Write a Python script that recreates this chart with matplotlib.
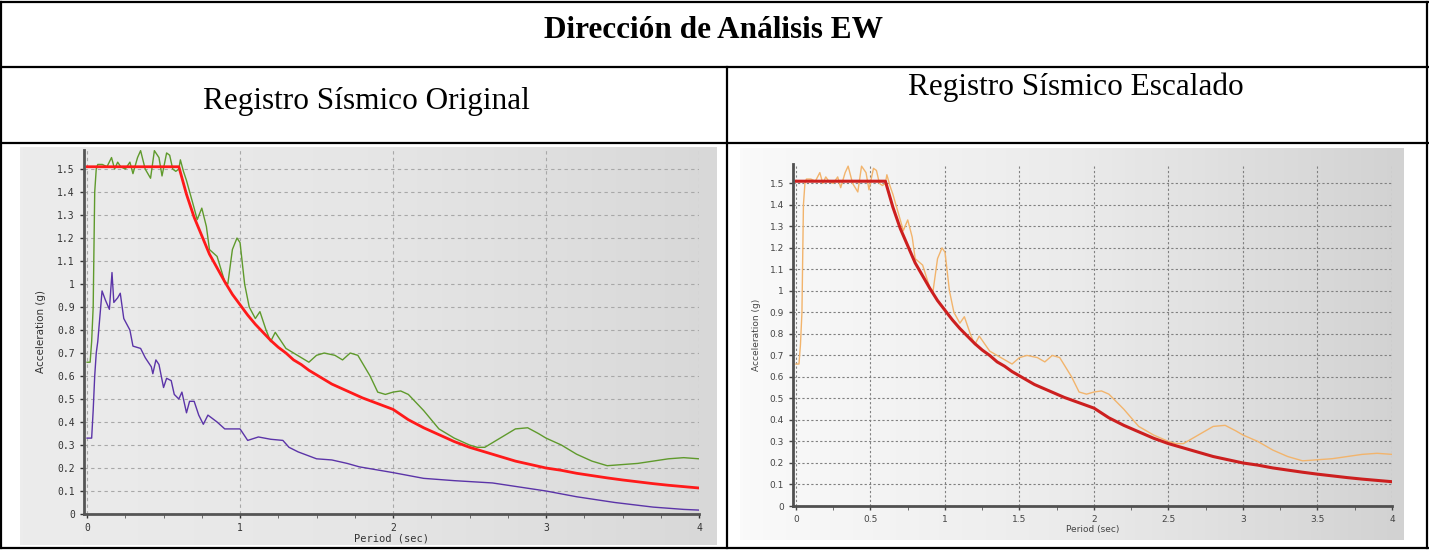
import matplotlib.pyplot as plt
import numpy as np
from matplotlib.lines import Line2D
from matplotlib.colors import LinearSegmentedColormap

# --- data ---
# target (design) spectrum, red
t_target = [0, 0.6, 0.65, 0.7, 0.75, 0.8, 0.85, 0.9, 0.95, 1.0, 1.05, 1.1, 1.15, 1.2, 1.25,
            1.3, 1.35, 1.4, 1.45, 1.5, 1.6, 1.7, 1.8, 1.9, 2.0, 2.1, 2.2, 2.3, 2.4, 2.5, 2.6,
            2.7, 2.8, 2.9, 3.0, 3.1, 3.2, 3.3, 3.4, 3.5, 3.6, 3.7, 3.8, 3.9, 4.0]
sa_target = [1.51, 1.51, 1.39, 1.29, 1.21, 1.13, 1.07, 1.01, 0.955, 0.91, 0.865, 0.825, 0.79, 0.755, 0.725,
             0.70, 0.67, 0.65, 0.625, 0.605, 0.565, 0.535, 0.505, 0.48, 0.455, 0.41, 0.375, 0.345, 0.315, 0.29, 0.27,
             0.25, 0.23, 0.215, 0.20, 0.19, 0.177, 0.167, 0.157, 0.148, 0.14, 0.132, 0.125, 0.119, 0.113]

# scaled record spectrum (green left / orange right)
t_scaled = [0, 0.02, 0.03, 0.04, 0.045, 0.05, 0.06, 0.07, 0.1, 0.13, 0.16, 0.18, 0.2, 0.22, 0.25,
            0.28, 0.3, 0.33, 0.35, 0.38, 0.415, 0.44, 0.47, 0.49, 0.52, 0.54, 0.56, 0.58, 0.6, 0.61,
            0.63, 0.65, 0.7, 0.72, 0.75, 0.78, 0.8, 0.85, 0.9, 0.92, 0.95, 0.98, 1.0, 1.03, 1.06,
            1.1, 1.13, 1.17, 1.2, 1.23, 1.3, 1.4, 1.45, 1.5, 1.55, 1.62, 1.67, 1.72, 1.77, 1.85,
            1.9, 1.95, 2.0, 2.05, 2.1, 2.2, 2.3, 2.4, 2.5, 2.55, 2.6, 2.7, 2.8, 2.88, 2.95, 3.0,
            3.1, 3.2, 3.3, 3.4, 3.5, 3.6, 3.7, 3.8, 3.9, 4.0]
sa_scaled = [0.66, 0.66, 0.75, 0.9, 1.15, 1.4, 1.5, 1.52, 1.52, 1.51, 1.55, 1.50, 1.53, 1.51, 1.50,
             1.53, 1.48, 1.55, 1.58, 1.50, 1.46, 1.58, 1.55, 1.47, 1.57, 1.56, 1.50, 1.49, 1.50, 1.54,
             1.49, 1.45, 1.33, 1.28, 1.33, 1.25, 1.15, 1.12, 1.01, 1.00, 1.15, 1.20, 1.18, 1.00, 0.90,
             0.85, 0.88, 0.80, 0.75, 0.79, 0.72, 0.68, 0.66, 0.69, 0.70, 0.69, 0.67, 0.70, 0.69, 0.60,
             0.53, 0.52, 0.53, 0.535, 0.52, 0.45, 0.37, 0.33, 0.30, 0.29, 0.29, 0.33, 0.37, 0.375, 0.35, 0.33,
             0.30, 0.26, 0.23, 0.21, 0.215, 0.22, 0.23, 0.24, 0.245, 0.24]

# original record spectrum, purple
t_orig = [0, 0.03, 0.04, 0.05, 0.06, 0.07, 0.098, 0.12, 0.146, 0.163, 0.175, 0.2, 0.217, 0.24,
          0.28, 0.3, 0.35, 0.38, 0.42, 0.43, 0.45, 0.47, 0.5, 0.52, 0.55, 0.57, 0.6, 0.62, 0.65,
          0.67, 0.7, 0.73, 0.76, 0.79, 0.85, 0.9, 1.0, 1.05, 1.12, 1.2, 1.28, 1.32, 1.38, 1.5,
          1.6, 1.7, 1.78, 2.0, 2.2, 2.4, 2.65, 2.8, 3.0, 3.2, 3.45, 3.7, 3.9, 4.0]
sa_orig = [0.33, 0.33, 0.45, 0.60, 0.70, 0.75, 0.97, 0.93, 0.89, 1.05, 0.92, 0.94, 0.96, 0.85,
           0.80, 0.73, 0.72, 0.68, 0.64, 0.61, 0.67, 0.65, 0.55, 0.59, 0.58, 0.52, 0.50, 0.53, 0.44,
           0.49, 0.49, 0.43, 0.39, 0.43, 0.40, 0.37, 0.37, 0.32, 0.335, 0.325, 0.32, 0.29, 0.27, 0.24,
           0.235, 0.22, 0.205, 0.18, 0.155, 0.145, 0.135, 0.12, 0.10, 0.075, 0.05, 0.03, 0.02, 0.017]

y_ticks = [0, 0.1, 0.2, 0.3, 0.4, 0.5, 0.6, 0.7, 0.8, 0.9, 1, 1.1, 1.2, 1.3, 1.4, 1.5]
y_labels = ['0', '0.1', '0.2', '0.3', '0.4', '0.5', '0.6', '0.7', '0.8', '0.9',
            '1', '1.1', '1.2', '1.3', '1.4', '1.5']

W, H = 1429, 550
fig = plt.figure(figsize=(W / 100, H / 100), dpi=100)


def rect(x0, y0, x1, y1):
    # pixel box -> figure fraction
    return [x0 / W, 1 - y1 / H, (x1 - x0) / W, (y1 - y0) / H]


def hline(y, x0, x1):
    fig.add_artist(Line2D([x0 / W, x1 / W], [1 - y / H, 1 - y / H], color='black', lw=1.6))


def vline(x, y0, y1):
    fig.add_artist(Line2D([x / W, x / W], [1 - y0 / H, 1 - y1 / H], color='black', lw=1.6))


# table frame
hline(2, 0, W)
hline(67, 0, W)
hline(143, 0, W)
hline(548, 0, W)
vline(1, 2, 548)
vline(1427, 2, 548)
vline(727, 67, 548)

fig.text(714 / W, 1 - 30 / H, 'Dirección de Análisis EW', ha='center', va='center',
         family='Liberation Serif', fontweight='bold', fontsize=22.5)
fig.text(366 / W, 1 - 101 / H, 'Registro Sísmico Original', ha='center', va='center',
         family='Liberation Serif', fontsize=22.5)
fig.text(1076 / W, 1 - 87 / H, 'Registro Sísmico Escalado', ha='center', va='center',
         family='Liberation Serif', fontsize=22.5)

# screenshot backgrounds
grad = np.linspace(0, 1, 200).reshape(1, -1)
bg1 = fig.add_axes(rect(20, 147, 717, 545))
bg1.imshow(grad, aspect='auto', extent=[0, 1, 0, 1],
           cmap=LinearSegmentedColormap.from_list('g1', ['#ececec', '#e6e6e6', '#d8d8d8']))
bg1.axis('off')
bg2 = fig.add_axes(rect(740, 148, 1403, 540))
bg2.imshow(grad, aspect='auto', extent=[0, 1, 0, 1],
           cmap=LinearSegmentedColormap.from_list('g2', ['#fafafa', '#ebebeb', '#d2d2d2']))
bg2.axis('off')

# ---- left chart ----
ax1 = fig.add_axes(rect(84, 149.5, 699, 514))
ax1.set_facecolor('none')
ax1.set_xlim(-0.02, 4.0)
ax1.set_ylim(0, 1.585)
ax1.plot(t_orig, sa_orig, color='#5b34a8', lw=1.0)
ax1.plot(t_scaled, sa_scaled, color='#5f9a2c', lw=1.0)
ax1.plot(t_target, sa_target, color='#ff1a1a', lw=2.0)
ax1.set_yticks(y_ticks)
ax1.set_yticklabels(y_labels)
ax1.set_xticks([0, 1, 2, 3, 4])
ax1.set_xticks(np.arange(0, 4.01, 0.25), minor=True)
ax1.grid(True, which='major', color='#a8a8a8', ls=(0, (3, 3)), lw=0.8)
for s in ['top', 'right']:
    ax1.spines[s].set_visible(False)
for s in ['left', 'bottom']:
    ax1.spines[s].set_color('#555555')
    ax1.spines[s].set_linewidth(2)
ax1.spines['left'].set_position(('data', -0.02))
ax1.tick_params(labelsize=7, colors='#333333', length=3, width=1)
ax1.tick_params(which='minor', length=3, color='#555555')
for lab in ax1.get_xticklabels() + ax1.get_yticklabels():
    lab.set_family('DejaVu Sans Mono')
ax1.set_xlabel('Period (sec)', fontsize=7.5, family='DejaVu Sans Mono', color='#333333', labelpad=0)
ax1.set_ylabel('Acceleration (g)', fontsize=7.5, family='DejaVu Sans', color='#333333', labelpad=8)

# ---- right chart ----
ax2 = fig.add_axes(rect(793, 164, 1392, 506))
ax2.set_facecolor('none')
ax2.set_xlim(-0.02, 4.0)
ax2.set_ylim(0, 1.59)
ax2.plot(t_scaled, sa_scaled, color='#f2b46c', lw=1.0)
ax2.plot(t_target, sa_target, color='#cc1f1f', lw=2.2)
ax2.set_yticks(y_ticks)
ax2.set_yticklabels(y_labels)
ax2.set_xticks([0, 0.5, 1, 1.5, 2, 2.5, 3, 3.5, 4])
ax2.set_xticklabels(['0', '0.5', '1', '1.5', '2', '2.5', '3', '3.5', '4'])
ax2.set_xticks(np.arange(0, 4.01, 0.25), minor=True)
ax2.grid(True, which='major', color='#808080', ls=(0, (2, 2)), lw=0.8)
for s in ['top', 'right']:
    ax2.spines[s].set_visible(False)
for s in ['left', 'bottom']:
    ax2.spines[s].set_color('#505050')
    ax2.spines[s].set_linewidth(2)
ax2.spines['left'].set_position(('data', -0.02))
ax2.tick_params(labelsize=6.5, colors='#444444', length=3, width=1)
ax2.tick_params(which='minor', length=3, color='#555555')
ax2.set_xlabel('Period (sec)', fontsize=6.5, color='#444444', labelpad=1)
ax2.set_ylabel('Acceleration (g)', fontsize=6.5, color='#444444', labelpad=6)

fig.savefig('out.png', dpi=100)
